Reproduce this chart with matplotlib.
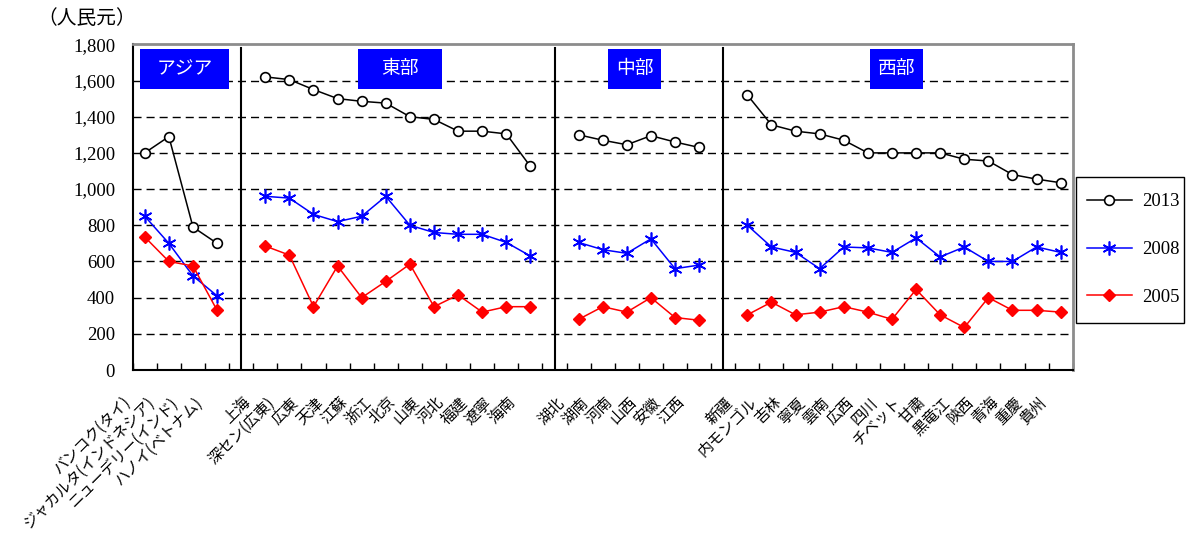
import numpy as np
import matplotlib
matplotlib.use("Agg")
import matplotlib.pyplot as plt
from matplotlib.patches import Rectangle
from matplotlib.transforms import ScaledTranslation

JP_FONT = ["Noto Sans CJK JP", "DejaVu Sans"]
SERIF = ["Liberation Serif", "DejaVu Serif"]

# ---------------------------------------------------------------------------
# Data (人民元)
# ---------------------------------------------------------------------------
group_names = ["アジア", "東部", "中部", "西部"]

asia_cities = ["バンコク(タイ)", "ジャカルタ(インドネシア)", "ニューデリー(インド)", "ハノイ(ベトナム)"]
east_cities = ["上海", "深セン(広東)", "広東", "天津", "江蘇", "浙江", "北京", "山東",
               "河北", "福建", "遼寧", "海南"]
central_cities = ["湖北", "湖南", "河南", "山西", "安徽", "江西"]
west_cities = ["新疆", "内モンゴル", "吉林", "寧夏", "雲南", "広西", "四川", "チベット",
               "甘粛", "黒竜江", "陝西", "青海", "重慶", "貴州"]

asia_2013 = [1200, 1290, 790, 700]
asia_2008 = [850, 700, 520, 410]
asia_2005 = [735, 600, 575, 330]

east_2013 = [1620, 1605, 1550, 1500, 1485, 1475, 1400, 1385, 1320, 1320, 1305, 1125]
east_2008 = [960, 950, 860, 820, 850, 960, 800, 760, 750, 750, 705, 630]
east_2005 = [685, 635, 350, 575, 400, 490, 585, 350, 415, 320, 350, 350]

central_2013 = [1300, 1270, 1245, 1295, 1260, 1230]
central_2008 = [705, 665, 645, 725, 560, 580]
central_2005 = [280, 350, 320, 400, 290, 275]

west_2013 = [1520, 1355, 1320, 1305, 1270, 1200, 1200, 1200, 1200, 1165, 1155, 1080, 1055, 1035]
west_2008 = [800, 680, 650, 560, 680, 675, 650, 730, 625, 680, 600, 600, 680, 650]
west_2005 = [305, 375, 305, 320, 350, 320, 280, 445, 305, 235, 400, 330, 330, 320]

years = ["2013", "2008", "2005"]
y_ticks = list(range(0, 1801, 200))


def join(parts, blank):
    """Concatenate groups with one blank category between them."""
    out = []
    for i, p in enumerate(parts):
        if i:
            out.append(blank)
        out.extend(p)
    return out


labels = join([asia_cities, east_cities, central_cities, west_cities], "")
series = {
    "2013": np.array(join([asia_2013, east_2013, central_2013, west_2013], np.nan), float),
    "2008": np.array(join([asia_2008, east_2008, central_2008, west_2008], np.nan), float),
    "2005": np.array(join([asia_2005, east_2005, central_2005, west_2005], np.nan), float),
}
n = len(labels)
x = np.arange(n)
sizes = [len(asia_cities), len(east_cities), len(central_cities), len(west_cities)]
dividers = np.cumsum(sizes)[:-1] + np.arange(len(sizes) - 1)

styles = {
    "2013": dict(color="black", marker="o", ms=7, mfc="white", mec="black", mew=1.2),
    "2008": dict(color="#0000ff", marker=(6, 2, 0), ms=10, mec="#0000ff", mew=1.2),
    "2005": dict(color="#ff0000", marker="D", ms=6.5, mfc="#ff0000", mec="#ff0000"),
}

# ---------------------------------------------------------------------------
# Figure
# ---------------------------------------------------------------------------
fig = plt.figure(figsize=(11.86, 5.34), dpi=100)
ax = fig.add_axes([0.1119, 0.3071, 0.7926, 0.6099])

for y in y_ticks[1:-1]:
    ax.axhline(y, color="black", lw=1.0, ls=(0, (5.8, 3.6)), zorder=1)

for d in dividers:
    ax.axvline(d, ymax=0.99, color="black", lw=1.5, zorder=2)

handles = []
for yr in years:
    h, = ax.plot(x, series[yr], lw=1.1, label=yr, zorder=4, **styles[yr])
    handles.append(h)

# group header boxes (centre, width in category units)
boxes = [(1.65, 3.69), (10.59, 3.47), (20.32, 2.17), (31.18, 2.19)]
for name, (cx, w) in zip(group_names, boxes):
    ax.add_patch(Rectangle((cx - w / 2, 1555), w, 219, facecolor="#0000ff",
                           edgecolor="none", zorder=5))
    ax.text(cx, 1664, name, color="white", ha="center", va="center",
            fontsize=13.5, family=JP_FONT, zorder=6)

ax.set_xlim(-0.5, n - 0.5)
ax.set_ylim(0, 1800)
ax.set_yticks(y_ticks)
ax.set_yticklabels([f"{v:,}" for v in y_ticks], family=SERIF, fontsize=13.5)
ax.tick_params(axis="y", length=0, pad=12.7)

ax.set_xticks(x)
ax.set_xticklabels(labels, family=JP_FONT, fontsize=11)
ax.set_xticks(np.arange(-0.5, n, 1.0), minor=True)
ax.tick_params(axis="x", which="major", length=0, pad=0)
ax.tick_params(axis="x", which="minor", direction="in", length=5, width=1, color="black")
offset = ScaledTranslation(-0.17, -0.30, fig.dpi_scale_trans)
for lab in ax.get_xticklabels():
    lab.set_rotation(45)
    lab.set_ha("right")
    lab.set_va("center")
    lab.set_rotation_mode("anchor")
    lab.set_transform(lab.get_transform() + offset)

for side in ["left", "bottom"]:
    ax.spines[side].set_color("black")
    ax.spines[side].set_linewidth(1.5)
for side in ["top", "right"]:
    ax.spines[side].set_color("#8c8c8c")
    ax.spines[side].set_linewidth(2.0)

fig.text(37 / 1186, 1 - 18 / 534, "（人民元）", family=JP_FONT, fontsize=14.2,
         ha="left", va="center")

# legend entries without frame, frame drawn separately to match the box
leg = fig.legend(handles=handles, labels=years, loc="center left",
                 bbox_to_anchor=(1087 / 1186, 1 - 249.5 / 534), borderaxespad=0,
                 prop={"family": SERIF, "size": 13.5}, frameon=False,
                 handlelength=2.38, handletextpad=0.55, labelspacing=1.64,
                 borderpad=0)
fig.patches.append(Rectangle((1076 / 1186, 1 - 323 / 534), 108 / 1186, 146 / 534,
                             transform=fig.transFigure, fill=False,
                             edgecolor="black", lw=1.0))

fig.savefig("out.png", dpi=100)
